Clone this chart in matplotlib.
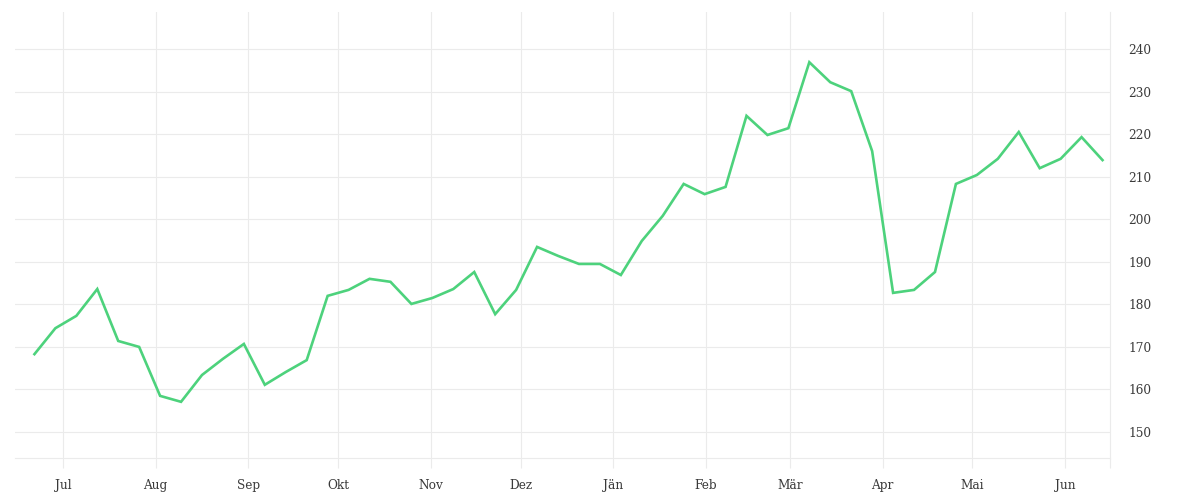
import numpy as np
import pandas as pd
import matplotlib
matplotlib.use('Agg')
import matplotlib.pyplot as plt
import matplotlib.dates as mdates

# weekly values
start = '2022-06-21 12:00'
values = [168.3, 174.4, 177.3, 183.6, 171.4, 170.0, 158.5, 157.1, 163.4, 167.2,
          170.7, 161.1, 164.1, 166.9, 182.0, 183.4, 186.0, 185.3, 180.1, 181.5,
          183.6, 187.6, 177.7, 183.4, 193.5, 191.4, 189.5, 189.5, 186.9, 194.9,
          200.8, 208.3, 205.9, 207.6, 224.3, 219.8, 221.4, 236.9, 232.2, 230.1,
          216.0, 182.7, 183.4, 187.6, 208.3, 210.4, 214.2, 220.5, 212.0, 214.2,
          219.3, 213.9]
dates = pd.date_range(start, periods=len(values), freq='7D')

month_labels = ['Jul', 'Aug', 'Sep', 'Okt', 'Nov', 'Dez', 'Jän', 'Feb', 'Mär', 'Apr', 'Mai', 'Jun']
month_ticks = pd.date_range('2022-07-01', periods=12, freq='MS')
y_ticks = [150, 160, 170, 180, 190, 200, 210, 220, 230, 240]

grid = '#ebebeb'
txt = '#3a3a3a'

fig = plt.figure(figsize=(12, 5), dpi=100)
ax = fig.add_axes([0.0125, 0.084, 0.9125, 0.892])

ax.plot(dates, values, color='#4dd27c', lw=1.9, solid_joinstyle='miter')

ax.set_xlim(pd.Timestamp('2022-06-15'), pd.Timestamp('2023-06-16'))
ax.set_ylim(143.9, 248.7)

ax.set_xticks(month_ticks)
ax.set_xticklabels(month_labels)
ax.set_xticks([mdates.date2num(pd.Timestamp('2023-06-16'))], minor=True)
ax.set_yticks(y_ticks)

ax.yaxis.tick_right()
ax.tick_params(axis='y', length=0, pad=13, labelsize=8.7, labelcolor=txt)
ax.tick_params(axis='x', which='both', length=7.2, width=0.8, color=grid,
               pad=8, labelsize=8.7, labelcolor=txt)

for lab in ax.get_xticklabels() + ax.get_yticklabels():
    lab.set_fontfamily('DejaVu Serif')

ax.grid(True, color=grid, lw=0.8)
ax.set_axisbelow(True)
for side in ['left', 'top']:
    ax.spines[side].set_visible(False)
for side in ['right', 'bottom']:
    ax.spines[side].set_color(grid)
    ax.spines[side].set_linewidth(0.8)

fig.savefig('out.png', dpi=100)
